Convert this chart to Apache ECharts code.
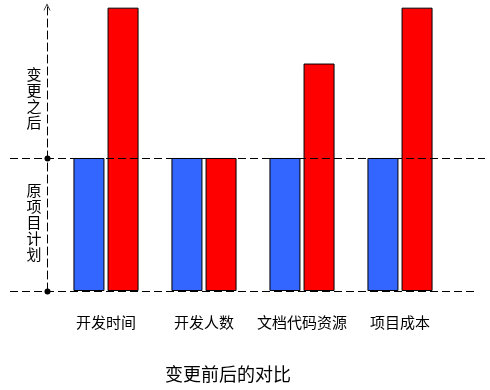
<!DOCTYPE html>
<html><head><meta charset="utf-8">
<script src="https://cdn.jsdelivr.net/npm/echarts@6/dist/echarts.min.js"></script>
<style>html,body{margin:0;padding:0;background:#fff}#c{width:490px;height:390px}</style>
</head><body><div id="c"></div>
<script>
const categories = ['开发时间', '开发人数', '文档代码资源', '项目成本'];
const planValues = [100, 100, 100, 100];
const changedValues = [213, 100, 171, 213];
const yMax = 213.5;
const baseValue = 100;
const titleText = '变更前后的对比';
const afterLabel = '变更之后';
const planLabel = '原项目计划';
const afterLabelValue = 145;
const planLabelValue = 52;

const font = '"Noto Sans CJK SC", sans-serif';
const chart = echarts.init(document.getElementById('c'));
chart.setOption({
  animation: false,
  title: {text: titleText, left: 160, top: 360,
    textStyle: {fontSize: 18, fontWeight: 'normal', color: '#000', fontFamily: font}},
  grid: {left: 57, top: 7, width: 392, bottom: 99},
  xAxis: {type: 'category', data: categories, axisLine: {show: false}, axisTick: {show: false},
    axisLabel: {interval: 0, margin: 24, fontSize: 15, color: '#000', fontFamily: font}},
  yAxis: {type: 'value', min: 0, max: yMax, offset: 10, splitLine: {show: false},
    axisLabel: {show: false}, axisTick: {show: false},
    axisLine: {show: true, lineStyle: {color: '#000', type: [8, 4], width: 1},
      symbol: ['none', 'path://M0,10 L5,0 L10,10 L9,10 L5,2 L1,10 Z'], symbolSize: [8, 7]}},
  series: [
    {type: 'bar', data: planValues, barWidth: 31, barGap: '10%',
      itemStyle: {color: '#3366ff', borderColor: '#000', borderWidth: 1}},
    {type: 'bar', data: changedValues, barWidth: 31,
      itemStyle: {color: '#ff0000', borderColor: '#000', borderWidth: 1}}
  ]
});

const px = v => Math.round(chart.convertToPixel({yAxisIndex: 0}, v)) + 0.5;
const yBase = px(baseValue);
const y0 = px(0);
const axisX = 47.5;
const vText = (s, v) => ({
  type: 'text', x: 34, y: chart.convertToPixel({yAxisIndex: 0}, v),
  style: {text: s.split('').join('\n'), font: '15px ' + font, lineHeight: 16,
    textAlign: 'center', textVerticalAlign: 'middle', fill: '#000'}
});
chart.setOption({graphic: [
  {type: 'line', z: 100, shape: {x1: 10, y1: yBase, x2: 485, y2: yBase},
    style: {stroke: '#000', lineDash: [8, 4], lineWidth: 1}},
  {type: 'line', z: 100, shape: {x1: 10, y1: y0, x2: 475, y2: y0},
    style: {stroke: '#000', lineDash: [8, 4], lineWidth: 1}},
  {type: 'circle', z: 101, shape: {cx: axisX, cy: yBase, r: 3}, style: {fill: '#000'}},
  {type: 'circle', z: 101, shape: {cx: axisX, cy: y0, r: 3}, style: {fill: '#000'}},
  vText(afterLabel, afterLabelValue),
  vText(planLabel, planLabelValue)
]});
</script>
</body></html>
